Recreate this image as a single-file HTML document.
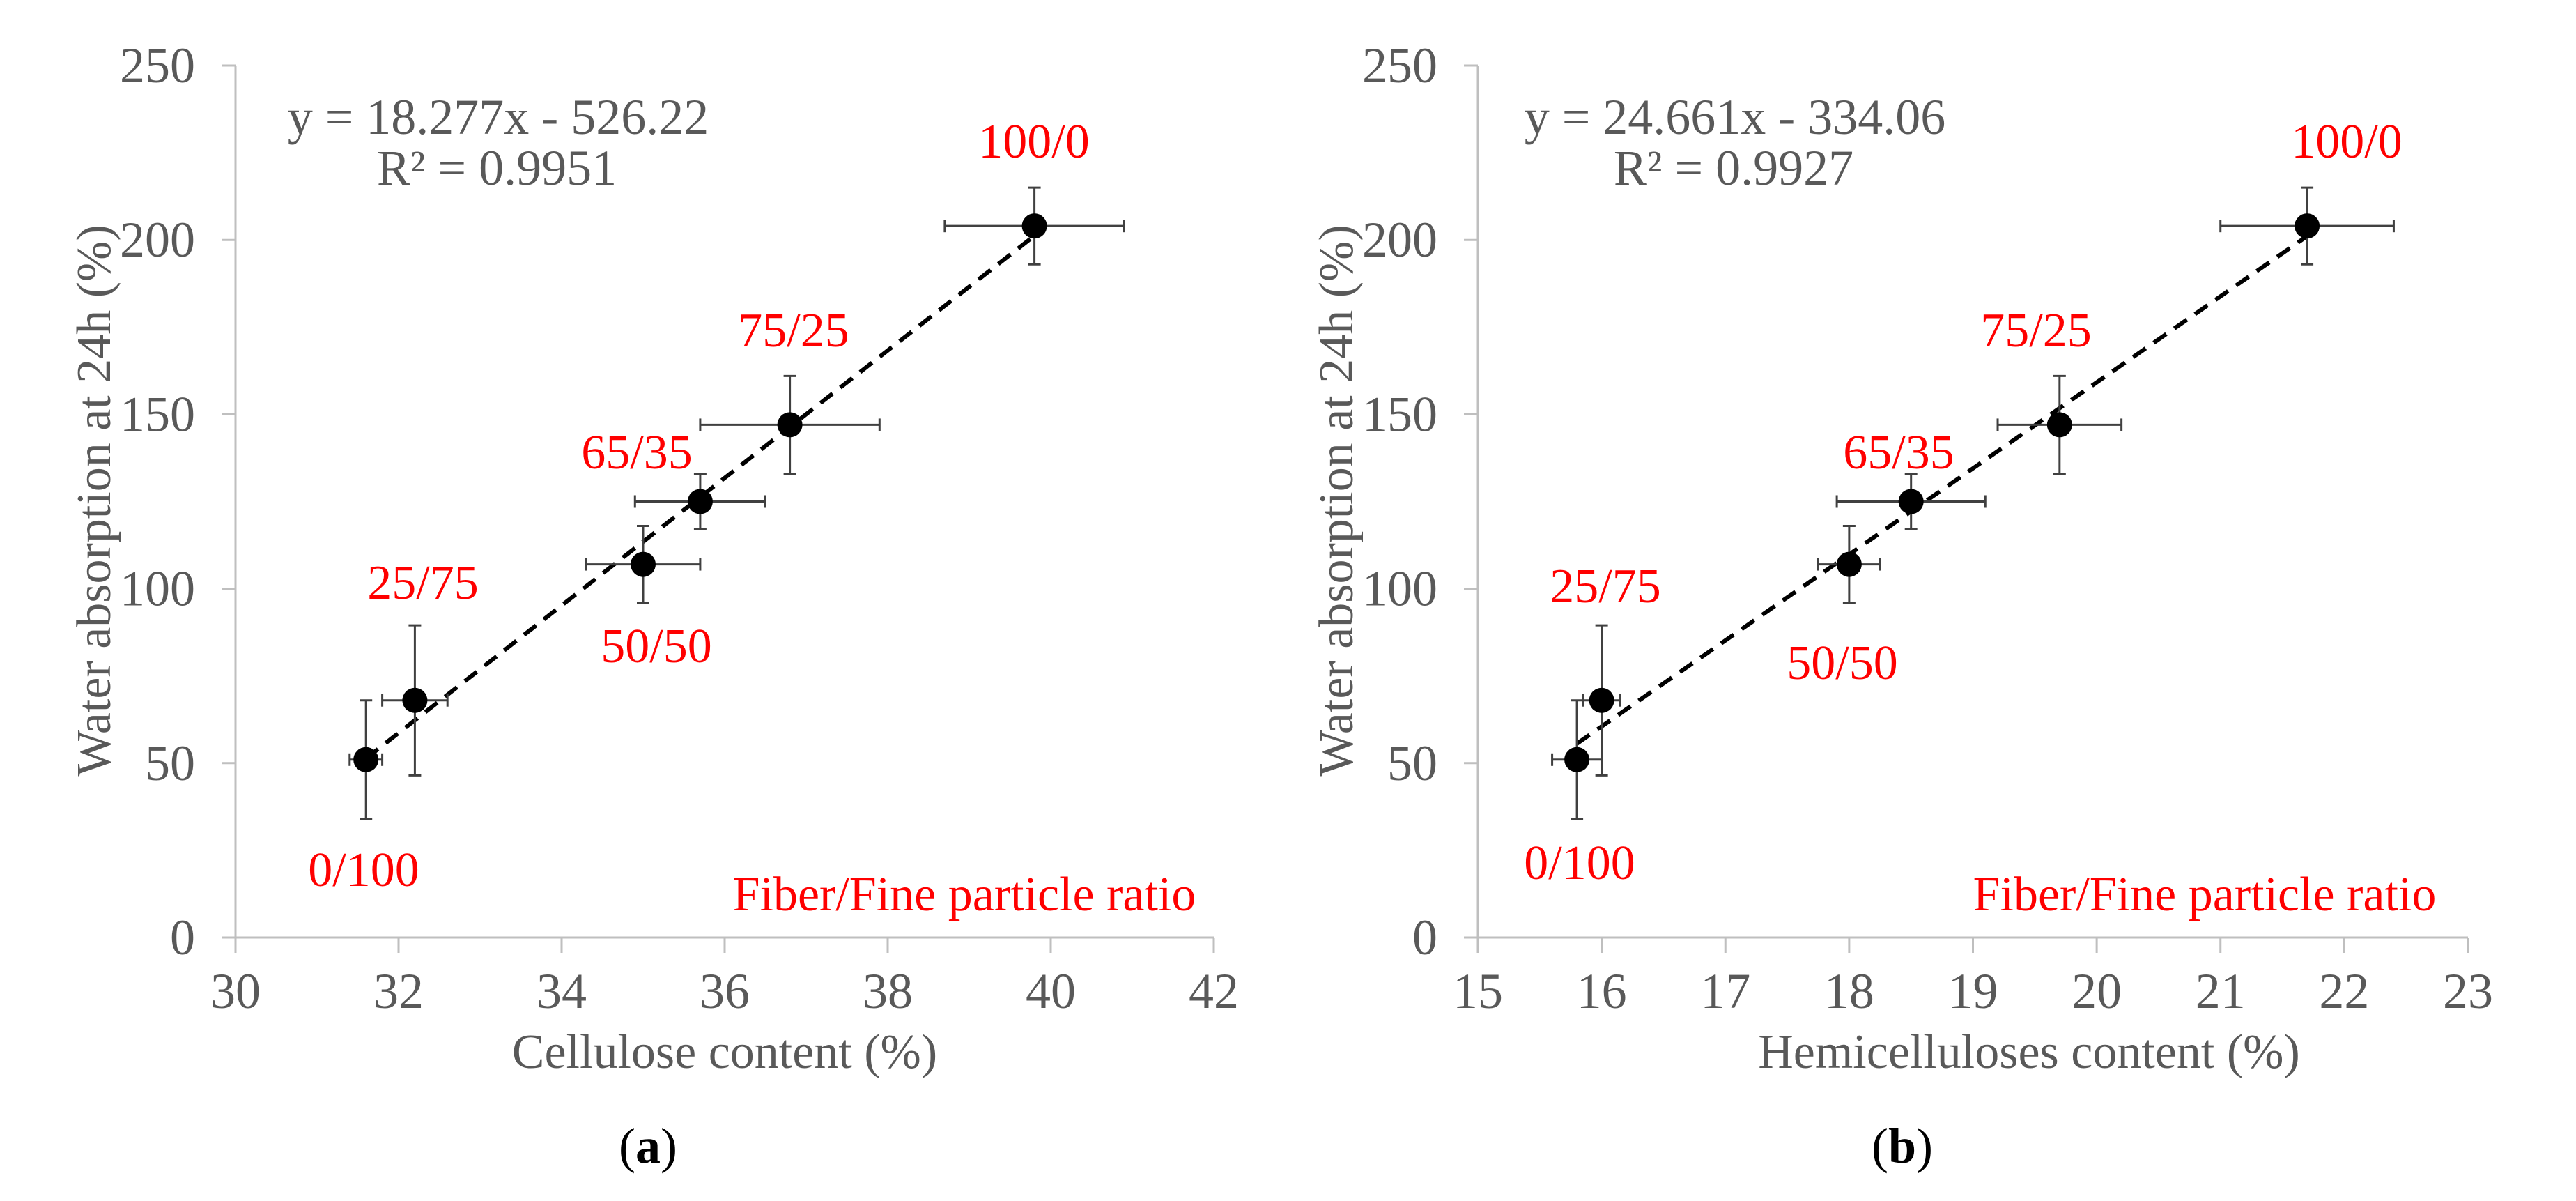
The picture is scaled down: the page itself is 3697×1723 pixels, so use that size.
<!DOCTYPE html>
<html><head><meta charset="utf-8"><style>
html,body{margin:0;padding:0;background:#fff;}
svg{display:block;}
svg text{font-family:"Liberation Serif","Times New Roman","DejaVu Serif",serif;}
</style></head><body>
<svg id="fig" width="3697" height="1723" viewBox="0 0 3697 1723" xmlns="http://www.w3.org/2000/svg" font-family="'Liberation Serif', 'Times New Roman', serif"></svg>
<script>
const ratioLabels = ["0/100","25/75","50/50","65/35","75/25","100/0"];
const waterAbs = [51, 68, 107, 125, 147, 204];
const waterErr = [17, 21.5, 11, 8, 14, 11];
const celluloseX = [31.6, 32.2, 35.0, 35.7, 36.8, 39.8];
const celluloseErr = [0.2, 0.4, 0.7, 0.8, 1.1, 1.1];
const hemiX = [15.8, 16.0, 18.0, 18.5, 19.7, 21.7];
const hemiErr = [0.2, 0.15, 0.25, 0.6, 0.5, 0.7];
const yTicks = [0, 50, 100, 150, 200, 250];
const xTicksA = [30, 32, 34, 36, 38, 40, 42];
const xTicksB = [15, 16, 17, 18, 19, 20, 21, 22, 23];
const fitA = [18.277, -526.22];
const fitB = [24.661, -334.06];

const NS = "http://www.w3.org/2000/svg";
const svg = document.getElementById("fig");
const FONT = "Liberation Serif, Times New Roman, serif";
function mk(tag, attrs, parent, txt){
  const e = document.createElementNS(NS, tag);
  for (const k in attrs) e.setAttribute(k, attrs[k]);
  if (tag === "text") e.setAttribute("font-family", FONT);
  if (txt !== undefined) e.textContent = txt;
  (parent || svg).appendChild(e);
  return e;
}
const Y0 = 1345, Y1 = 94;
function yS(v){ return Y0 - (v - 0) / 250 * (Y0 - Y1); }

function panel(cfg){
  const g = mk("g", {});
  
  
  const xmin = cfg.ticks[0], xmax = cfg.ticks[cfg.ticks.length-1];
  const xS = v => cfg.ax0 + (v - xmin) / (xmax - xmin) * (cfg.ax1 - cfg.ax0);
  const ya = mk("line", {x1:cfg.ax0, y1:Y1, x2:cfg.ax0, y2:Y0, stroke:"#bfbfbf", "stroke-width":3}, g);
  
  
  const xa = mk("line", {x1:cfg.ax0-20, y1:Y0, x2:cfg.ax1, y2:Y0, stroke:"#bfbfbf", "stroke-width":3}, g);
  
  
  yTicks.forEach(t => {
    const y = yS(t);
    const tk = mk("line", {x1:cfg.ax0-20, y1:y, x2:cfg.ax0, y2:y, stroke:"#bfbfbf", "stroke-width":3}, g);
    
    
    const lb = mk("text", {x:cfg.ax0-58, y:y+24, "text-anchor":"end", "font-size":72, fill:"#595959"}, g, String(t));
    
    
  });
  cfg.ticks.forEach(t => {
    const x = xS(t);
    const tk = mk("line", {x1:x, y1:Y0, x2:x, y2:Y0+22, stroke:"#bfbfbf", "stroke-width":3}, g);
    
    
    const lb = mk("text", {x:x, y:1446, "text-anchor":"middle", "font-size":72, fill:"#595959"}, g, String(t));
    
    
  });
  const yt = mk("text", {x:0, y:0, "text-anchor":"middle", "font-size":70, fill:"#595959",
    transform:`translate(${cfg.ax0-180},718) rotate(-90)`}, g, "Water absorption at 24h (%)");
  
  
  const xt = mk("text", {x:cfg.xtx, y:1532, "text-anchor":"middle", "font-size":70, fill:"#595959"}, g, cfg.xtitle);
  
  
  const xs = cfg.xs;
  const xa0 = Math.min(...xs), xa1 = Math.max(...xs);
  const tl = mk("line", {x1:xS(xa0), y1:yS(cfg.fit[0]*xa0+cfg.fit[1]), x2:xS(xa1), y2:yS(cfg.fit[0]*xa1+cfg.fit[1]),
    stroke:"#000", "stroke-width":6, "stroke-dasharray":"22 14"}, g);
  
  
  xs.forEach((xv, i) => {
    const cx = xS(xv), cy = yS(waterAbs[i]);
    const eb = mk("g", {stroke:"#404040", "stroke-width":3}, g);
    
    
    const yt1 = yS(waterAbs[i]+waterErr[i]), yb1 = yS(waterAbs[i]-waterErr[i]);
    const xl = xS(xv - cfg.xerr[i]), xr = xS(xv + cfg.xerr[i]);
    mk("line", {x1:cx, y1:yt1, x2:cx, y2:yb1}, eb);
    mk("line", {x1:cx-9, y1:yt1, x2:cx+9, y2:yt1}, eb);
    mk("line", {x1:cx-9, y1:yb1, x2:cx+9, y2:yb1}, eb);
    mk("line", {x1:xl, y1:cy, x2:xr, y2:cy}, eb);
    mk("line", {x1:xl, y1:cy-9, x2:xl, y2:cy+9}, eb);
    mk("line", {x1:xr, y1:cy-9, x2:xr, y2:cy+9}, eb);
    const p = mk("circle", {cx:cx, cy:cy, r:18, fill:"#000"}, g);
    
    
  });
  cfg.lab.forEach((pos, i) => {
    const t = mk("text", {x:pos[0], y:pos[1]+23, "text-anchor":"middle", "font-size":70, fill:"#ff0000"}, g, ratioLabels[i]);
    
    
  });
  const fr = mk("text", {x:cfg.fiberX, y:1306, "text-anchor":"middle", "font-size":70, fill:"#ff0000"}, g, "Fiber/Fine particle ratio");
  
  
  const sign = cfg.fit[1] < 0 ? " - " : " + ";
  const e1 = mk("text", {x:cfg.eqX, y:192, "text-anchor":"middle", "font-size":72, fill:"#595959"}, g,
    "y = " + cfg.fit[0].toFixed(3) + "x" + sign + Math.abs(cfg.fit[1]).toFixed(2));
  
  
  const e2 = mk("text", {x:cfg.eqX-2, y:265, "text-anchor":"middle", "font-size":72, fill:"#595959"}, g, "R² = " + cfg.r2);
  
  
  const pl = mk("text", {x:cfg.plx, y:1668, "text-anchor":"middle", "font-size":72, fill:"#000"}, g);
  
  
  mk("tspan", {}, pl, "(");
  mk("tspan", {"font-weight":"bold"}, pl, cfg.pl);
  mk("tspan", {}, pl, ")");
}

panel({name:"panel-a-cellulose", ax0:338, ax1:1742, ticks:xTicksA, xs:celluloseX, xerr:celluloseErr, fit:fitA, r2:"0.9951",
  xtitle:"Cellulose content (%)", xtx:1040, eqX:715, fiberX:1384, plx:930, pl:"a",
  lab:[[522,1248],[607,836],[942,927],[914,649],[1139,474],[1484,203]]});
panel({name:"panel-b-hemicelluloses", ax0:2121, ax1:3542, ticks:xTicksB, xs:hemiX, xerr:hemiErr, fit:fitB, r2:"0.9927",
  xtitle:"Hemicelluloses content (%)", xtx:2912, eqX:2490, fiberX:3164, plx:2730, pl:"b",
  lab:[[2267,1238],[2304,841],[2644,951],[2725,649],[2922,474],[3368,203]]});
</script>
</body></html>
